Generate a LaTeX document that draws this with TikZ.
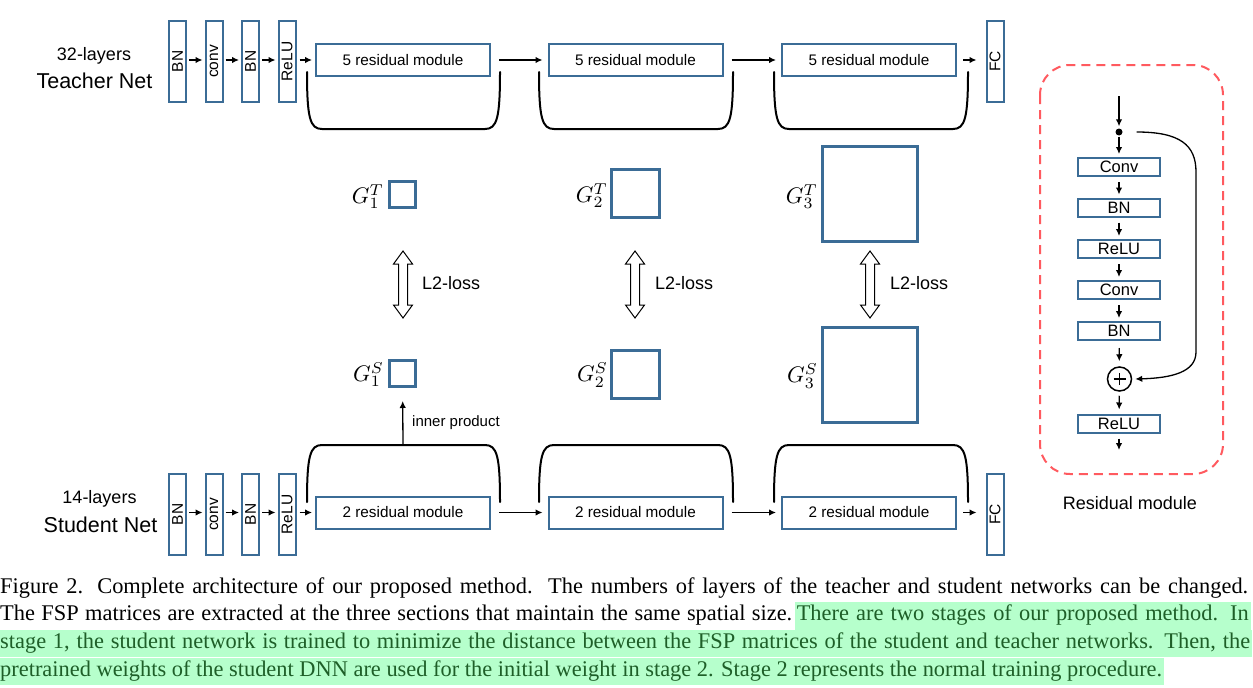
\documentclass[tikz,border=0pt]{standalone}
\usepackage{graphicx}
\usepackage{fontspec}
\setmainfont{Liberation Sans}
\newfontfamily\capfont{Liberation Serif}
\usetikzlibrary{arrows.meta,calc}
\definecolor{boxblue}{RGB}{59,108,150}
\definecolor{dashred}{RGB}{255,90,95}
\definecolor{hlgreen}{RGB}{182,255,204}
\definecolor{hltext}{RGB}{30,95,40}
\newcommand\dblarr[1]{%
  \draw[line width=1pt,line join=miter] (#1,251) -- (#1+9.5,264) -- (#1+4.5,264) -- (#1+4.5,305) -- (#1+9.5,305) -- (#1,318) -- (#1-9.5,305) -- (#1-4.5,305) -- (#1-4.5,264) -- (#1-9.5,264) -- cycle;}
\newcommand\gsym[2]{\scalebox{2.25}{$G_{#1}^{#2}$}}
\begin{document}
\begin{tikzpicture}[x=1pt,y=-1pt,
  layer/.style={draw=boxblue,line width=2pt,minimum width=17pt,minimum height=81pt,inner sep=0pt,font=\fontsize{15.5}{17}\selectfont},
  resbox/.style={draw=boxblue,line width=2pt,minimum width=174pt,minimum height=32pt,inner sep=0pt,font=\fontsize{15.3}{18}\selectfont},
  rbox/.style={draw=boxblue,line width=2pt,minimum width=82pt,minimum height=18pt,inner sep=0pt,font=\fontsize{16.5}{17}\selectfont},
  fsp/.style={draw=boxblue,line width=3pt,inner sep=0pt},
  glabel/.style={anchor=east,inner sep=0pt},
  arr/.style={line width=1.3pt,-{Latex[length=7pt,width=6.5pt]}},
  brk/.style={line width=2pt,line cap=round},
  caption/.style={inner sep=0pt,anchor=west,font=\capfont\fontsize{22.4}{26}\selectfont},
]
\useasboundingbox (0,0) rectangle (1253,688);

% ---------- Teacher ----------
\node (tl1) at (94,56) {\fontsize{18}{20}\selectfont 32-layers};
\node (tl2) at (94.5,81) {\fontsize{21.5}{24}\selectfont Teacher Net};
\node[layer] (t1) at (177.5,61.5) {\rotatebox{90}{BN}};
\node[layer] (t2) at (214,61.5) {\rotatebox{90}{conv}};
\node[layer] (t3) at (250.5,61.5) {\rotatebox{90}{BN}};
\node[layer] (t4) at (287,61.5) {\rotatebox{90}{ReLU}};
\node[resbox] (tr1) at (403,60) {5 residual module};
\node[resbox] (tr2) at (635.5,60) {5 residual module};
\node[resbox] (tr3) at (869,60) {5 residual module};
\node[layer] (tf) at (995,61.5) {\rotatebox{90}{FC}};
\draw[arr,shorten <=2pt,shorten >=2pt] (t1.east|-tr1) -- (t2.west|-tr1);
\draw[arr,shorten <=2pt,shorten >=2pt] (t2.east|-tr1) -- (t3.west|-tr1);
\draw[arr,shorten <=2pt,shorten >=2pt] (t3.east|-tr1) -- (t4.west|-tr1);
\draw[arr,shorten <=3pt,shorten >=3pt] (t4.east|-tr1) -- (tr1.west);
\draw[arr,shorten <=8pt,shorten >=5pt] (tr1.east) -- (tr2.west);
\draw[arr,shorten <=8pt,shorten >=5pt] (tr2.east) -- (tr3.west);
\draw[arr,shorten <=6pt,shorten >=9pt] (tr3.east) -- (tf.west|-tr3);
\draw[brk] (307,72) .. controls (307,118) and (310,129) .. (322,129) -- (485,129) .. controls (497,129) and (500,118) .. (500,72);
\draw[brk] (539,72) .. controls (539,118) and (542,129) .. (554,129) -- (718,129) .. controls (730,129) and (733,118) .. (733,72);
\draw[brk] (774,72) .. controls (774,118) and (777,129) .. (789,129) -- (953,129) .. controls (965,129) and (968,118) .. (968,72);

% ---------- Student ----------
\node (sl1) at (99.5,499) {\fontsize{18}{20}\selectfont 14-layers};
\node (sl2) at (100.5,525) {\fontsize{21.5}{24}\selectfont Student Net};
\node[layer] (s1) at (177.5,514.5) {\rotatebox{90}{BN}};
\node[layer] (s2) at (214,514.5) {\rotatebox{90}{conv}};
\node[layer] (s3) at (250.5,514.5) {\rotatebox{90}{BN}};
\node[layer] (s4) at (287,514.5) {\rotatebox{90}{ReLU}};
\node[resbox] (sr1) at (403,512.5) {2 residual module};
\node[resbox] (sr2) at (635.5,512.5) {2 residual module};
\node[resbox] (sr3) at (869,512.5) {2 residual module};
\node[layer] (sf) at (995,514.5) {\rotatebox{90}{FC}};
\draw[arr,shorten <=2pt,shorten >=2pt] (s1.east|-sr1) -- (s2.west|-sr1);
\draw[arr,shorten <=2pt,shorten >=2pt] (s2.east|-sr1) -- (s3.west|-sr1);
\draw[arr,shorten <=2pt,shorten >=2pt] (s3.east|-sr1) -- (s4.west|-sr1);
\draw[arr,shorten <=3pt,shorten >=3pt] (s4.east|-sr1) -- (sr1.west);
\draw[arr,shorten <=8pt,shorten >=5pt] (sr1.east) -- (sr2.west);
\draw[arr,shorten <=8pt,shorten >=5pt] (sr2.east) -- (sr3.west);
\draw[arr,shorten <=6pt,shorten >=9pt] (sr3.east) -- (sf.west|-sr3);
\draw[brk] (307,502) .. controls (307,456) and (310,445) .. (322,445) -- (485,445) .. controls (497,445) and (500,456) .. (500,502);
\draw[brk] (539,502) .. controls (539,456) and (542,445) .. (554,445) -- (718,445) .. controls (730,445) and (733,456) .. (733,502);
\draw[brk] (774,502) .. controls (774,456) and (777,445) .. (789,445) -- (953,445) .. controls (965,445) and (968,456) .. (968,502);
\coordinate (ip) at (403,445);

% ---------- FSP matrices ----------
\node[fsp,minimum size=26pt] (g1t) at (402.5,194.5) {};
\node[fsp,minimum size=48pt] (g2t) at (635.5,193.5) {};
\node[fsp,minimum size=95pt] (g3t) at (870,193.5) {};
\node[fsp,minimum size=26pt] (g1s) at (402.5,373.5) {};
\node[fsp,minimum size=48pt] (g2s) at (635.5,374) {};
\node[fsp,minimum size=95pt] (g3s) at (870,375) {};
\node[glabel] (lg1t) at ([xshift=-4pt,yshift=-2pt]g1t.west) {\gsym{1}{T}};
\node[glabel] (lg2t) at ([xshift=-2pt,yshift=-2pt]g2t.west) {\gsym{2}{T}};
\node[glabel] (lg3t) at ([xshift=-3pt,yshift=-3pt]g3t.west) {\gsym{3}{T}};
\node[glabel] (lg1s) at ([xshift=-4pt,yshift=-1pt]g1s.west) {\gsym{1}{S}};
\node[glabel] (lg2s) at ([xshift=-2pt,yshift=-1pt]g2s.west) {\gsym{2}{S}};
\node[glabel] (lg3s) at ([xshift=-3pt,yshift=-1pt]g3s.west) {\gsym{3}{S}};
\dblarr{403}
\dblarr{635}
\dblarr{870}
\node[anchor=west,inner sep=0pt,font=\fontsize{18}{20}\selectfont] (l2a) at (422,283) {L2-loss};
\node[anchor=west,inner sep=0pt,font=\fontsize{18}{20}\selectfont] (l2b) at (655,283) {L2-loss};
\node[anchor=west,inner sep=0pt,font=\fontsize{18}{20}\selectfont] (l2c) at (890,283) {L2-loss};
\draw[arr,shorten >=13pt] (ip) -- (g1s);
\node[anchor=west,inner sep=0pt,font=\fontsize{15}{17}\selectfont] (iplab) at (412,423) {inner product};

% ---------- Residual module ----------
\draw[dashred,line width=2pt,dash pattern=on 9pt off 6pt,rounded corners=30pt] (1040,65) rectangle (1223,474);
\coordinate (rin) at (1119,96);
\node[circle,fill,inner sep=0pt,minimum size=7pt] (dot) at (1119,132) {};
\node[rbox] (c1) at (1119,167) {Conv};
\node[rbox] (b1) at (1119,207.5) {BN};
\node[rbox] (re1) at (1119,249) {ReLU};
\node[rbox] (c2) at (1119,290) {Conv};
\node[rbox] (b2) at (1119,331) {BN};
\node[circle,draw,line width=1.5pt,minimum size=24pt,inner sep=0pt] (plus) at (1119.5,379) {};
\draw[line width=1.5pt] ([xshift=-6pt]plus.center) -- ([xshift=6pt]plus.center);
\draw[line width=1.5pt] ([yshift=-6pt]plus.center) -- ([yshift=6pt]plus.center);
\node[rbox] (re2) at (1119,423.5) {ReLU};
\coordinate (rout) at (1119,450);
\draw[arr,shorten >=2pt] (rin) -- (dot);
\draw[arr,shorten <=1pt,shorten >=3pt] (dot) -- (c1);
\draw[arr,shorten <=5pt,shorten >=3pt] (c1) -- (b1);
\draw[arr,shorten <=5pt,shorten >=3pt] (b1) -- (re1);
\draw[arr,shorten <=5pt,shorten >=3pt] (re1) -- (c2);
\draw[arr,shorten <=5pt,shorten >=3pt] (c2) -- (b2);
\draw[arr,shorten <=7pt,shorten >=5pt] (b2) -- (plus);
\draw[arr,shorten <=4pt,shorten >=4pt] (plus) -- (re2);
\draw[arr,shorten <=5pt] (re2) -- (rout);
\draw[arr] ([xshift=14pt]dot.east) .. controls (1180,132) and (1196,145) .. (1196,172) -- (1196,352) .. controls (1196,372) and (1172,378) .. ([xshift=3pt]plus.east);
\node (rmlab) at (1130,503) {\fontsize{18}{20}\selectfont Residual module};

% ---------- Caption ----------
\node[caption] (cap1) at (0,588) {\hbox to 1248pt{Figure 2. Complete architecture of our proposed method.\ \ The numbers of layers of the teacher and student networks can be changed.}};
\node[caption] (cap2a) at (0,615.5) {\hbox to 792pt{The FSP matrices are extracted at the three sections that maintain the same spatial size.}};
\node[caption,anchor=east,fill=hlgreen,text=hltext,inner xsep=2pt,inner ysep=0pt,minimum height=28pt] (cap2b) at (1251,615.5) {\hbox to 452pt{There are two stages of our proposed method. In}};
\node[caption,fill=hlgreen,text=hltext,inner xsep=2pt,minimum height=27pt] (cap3) at (-2,643.5) {\hbox to 1250pt{stage 1, the student network is trained to minimize the distance between the FSP matrices of the student and teacher networks. Then, the}};
\node[caption,fill=hlgreen,text=hltext,inner xsep=2pt,minimum height=27pt] (cap4) at (-2,671) {\hbox{pretrained weights of the student DNN are used for the initial weight in stage 2. Stage 2 represents the normal training procedure.}};
\end{tikzpicture}
\end{document}
